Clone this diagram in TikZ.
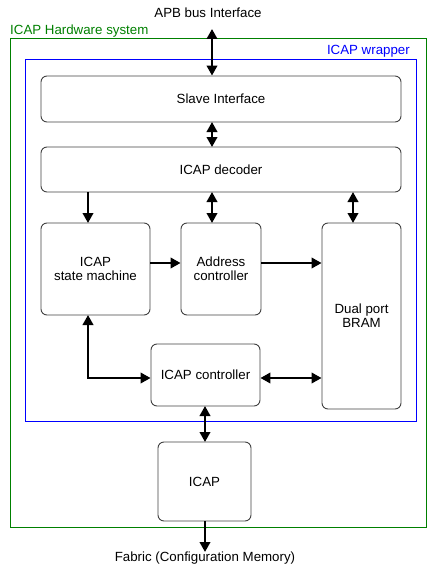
\documentclass[tikz,border=0pt]{standalone}
\usepackage{fontspec}
\setmainfont{Liberation Sans}
\usetikzlibrary{arrows.meta}
\definecolor{hwgreen}{RGB}{0,128,0}
\definecolor{wrapblue}{RGB}{0,0,255}
\begin{document}
\begin{tikzpicture}[x=1pt,y=-1pt,
  blk/.style={draw=black!75,line width=0.9pt,rounded corners=6pt,align=center,font=\fontsize{13.3}{14}\selectfont},
  lbl/.style={font=\fontsize{13.3}{14}\selectfont,inner sep=0pt},
  conn/.style={line width=2.2pt,-{Triangle[length=10pt,width=10.5pt]}},
  bconn/.style={line width=2.2pt,{Triangle[length=10pt,width=10.5pt]}-{Triangle[length=10pt,width=10.5pt]}}]
\useasboundingbox (0,0) rectangle (427,567);
% outer boxes
\draw[hwgreen,line width=1pt] (10,39) rectangle (426,527);
\node[lbl,text=hwgreen,anchor=west] (hwl) at (10,31) {ICAP Hardware system};
\draw[wrapblue,line width=1pt] (25,60) rectangle (416,421);
\node[lbl,text=wrapblue,anchor=east] (wrl) at (410,51) {ICAP wrapper};
% blocks
\node[blk,minimum width=360pt,minimum height=46pt] (slave) at (221,99) {Slave Interface};
\node[blk,minimum width=360pt,minimum height=45pt] (dec) at (221,169.5) {ICAP decoder};
\node[blk,minimum width=109pt,minimum height=92pt] (sm) at (95.5,269) {ICAP\\state machine};
\node[blk,minimum width=80pt,minimum height=92pt] (addr) at (221,269) {Address\\controller};
\node[blk,minimum width=79pt,minimum height=186pt] (bram) at (361.5,316) {Dual port\\BRAM};
\node[blk,minimum width=109pt,minimum height=62pt] (ctrl) at (205.5,375) {ICAP controller};
\node[blk,minimum width=93pt,minimum height=79pt] (icap) at (204.5,481.5) {ICAP};
% external labels
\node[lbl] (apb) at (208,13) {APB bus Interface};
\node[lbl] (fab) at (205,558) {Fabric (Configuration Memory)};
\coordinate (apbend) at (212,29);
\coordinate (fabend) at (205,552);
% connectors
\draw[bconn] (apbend) -- (apbend |- slave.north);
\draw[bconn] (212,122) -- (212,147);
\draw[conn] (88,192) -- (88,223);
\draw[bconn] (212,192) -- (212,223);
\draw[bconn] (353,192) -- (353,223);
\draw[conn] (sm.east |- 0,263) -- (addr.west |- 0,263);
\draw[conn] (addr.east |- 0,263) -- (bram.west |- 0,263);
\draw[bconn] (88,315) -- (88,378) -- (ctrl.west |- 0,378);
\draw[bconn] (ctrl.east |- 0,378) -- (bram.west |- 0,378);
\draw[bconn] (205,406) -- (205,442);
\draw[conn] (205,521) -- (fabend);
\end{tikzpicture}
\end{document}
